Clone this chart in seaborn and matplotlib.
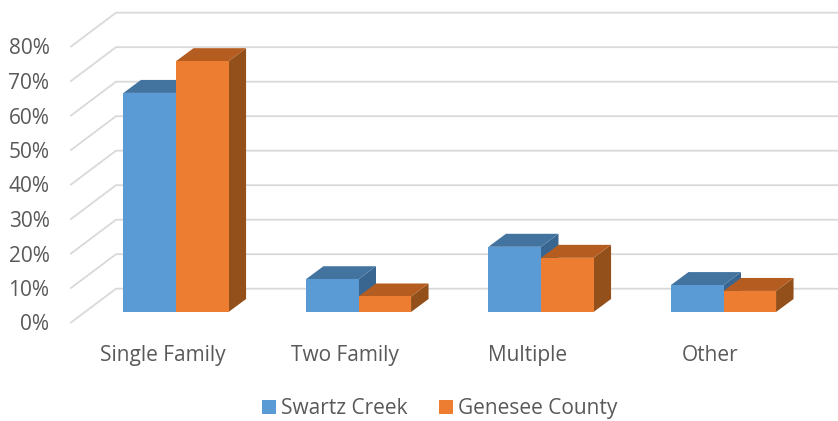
import pandas as pd
import matplotlib
matplotlib.use('Agg')
import matplotlib.pyplot as plt
from matplotlib.patches import Patch, Polygon
import seaborn as sns

categories = ['Single Family', 'Two Family', 'Multiple', 'Other']
swartz_creek = [63.5, 9.5, 18.9, 7.8]
genesee_county = [72.7, 4.5, 15.7, 6.1]
y_ticks = [0, 10, 20, 30, 40, 50, 60, 70, 80]

W, H = 838, 421
PX_PER_CAT = 182.5   # 카테고리 간격 (px)
PX_PER_PCT = 3.45    # 1% 당 px

# 3D 느낌을 내기 위한 오프셋 (데이터 단위)
depth_x = 17.5 / PX_PER_CAT
depth_y = 13 / PX_PER_PCT
floor_drop = 10.5 / PX_PER_PCT
wall_rise = 23.3 / PX_PER_PCT
wall_x = 45 / PX_PER_CAT
label_shift = 13.5 / PX_PER_CAT

colors = {'Swartz Creek': '#5B9BD5', 'Genesee County': '#ED7D31'}
top_colors = {'Swartz Creek': '#4374A0', 'Genesee County': '#B55D21'}
side_colors = {'Swartz Creek': '#386690', 'Genesee County': '#93501B'}
text_color = '#595959'

plt.rcParams['font.family'] = ['Open Sans', 'DejaVu Sans']

df = pd.DataFrame({
    'category': categories * 2,
    'series': ['Swartz Creek'] * 4 + ['Genesee County'] * 4,
    'value': swartz_creek + genesee_county,
})

fig = plt.figure(figsize=(W / 100, H / 100), dpi=100)
ax = fig.add_axes([71 / W, 1 - 322.5 / H, (838 - 71) / W, (322.5 - 12.7) / H])

sns.barplot(data=df, x='category', y='value', hue='series', order=categories,
            hue_order=list(colors), palette=colors, width=0.576, saturation=1,
            legend=False, ax=ax)

x_left = (71 - 176) / PX_PER_CAT
x_right = (838 - 176) / PX_PER_CAT
ax.set_xlim(x_left, x_right)
ax.set_ylim(-floor_drop, 80 + wall_rise)

# 격자선: 앞쪽 사선 + 뒷벽 가로선
for v in y_ticks:
    ax.plot([x_left, x_left + wall_x, x_right],
            [v - floor_drop, v + wall_rise, v + wall_rise],
            color='#D9D9D9', lw=1.3, zorder=1, clip_on=False, solid_joinstyle='miter')

# 막대 옆면, 윗면 추가
for k, (name, container) in enumerate(zip(colors, ax.containers)):
    base = 3 + k
    for bar in container:
        x0, w, h = bar.get_x(), bar.get_width(), bar.get_height()
        x1 = x0 + w
        side = [(x1, 0), (x1 + depth_x, depth_y), (x1 + depth_x, h + depth_y), (x1, h)]
        top = [(x0, h), (x0 + depth_x, h + depth_y), (x1 + depth_x, h + depth_y), (x1, h)]
        ax.add_patch(Polygon(side, closed=True, fc=side_colors[name], ec='none', zorder=base))
        ax.add_patch(Polygon(top, closed=True, fc=top_colors[name], ec='none', zorder=base + 0.1))
        bar.set_zorder(base + 0.2)

ax.set_xticks([i - label_shift for i in range(len(categories))], categories)
ax.set_yticks([v - floor_drop for v in y_ticks], [f'{v}%' for v in y_ticks])
ax.tick_params(axis='x', length=0, pad=16, labelsize=15, labelcolor=text_color)
ax.tick_params(axis='y', length=0, pad=15.5, labelsize=15, labelcolor=text_color)
ax.set_xlabel('')
ax.set_ylabel('')
sns.despine(ax=ax, left=True, bottom=True)

handles = [Patch(fc=c, ec='none', label=n) for n, c in colors.items()]
fig.legend(handles=handles, loc='lower center', bbox_to_anchor=(439.5 / W, -0.02), ncol=2,
           frameon=False, fontsize=15, labelcolor=text_color, handlelength=0.67,
           handleheight=0.67, handletextpad=0.24, columnspacing=1.5, borderpad=0)

fig.savefig('out.png', dpi=100)
plt.close(fig)
